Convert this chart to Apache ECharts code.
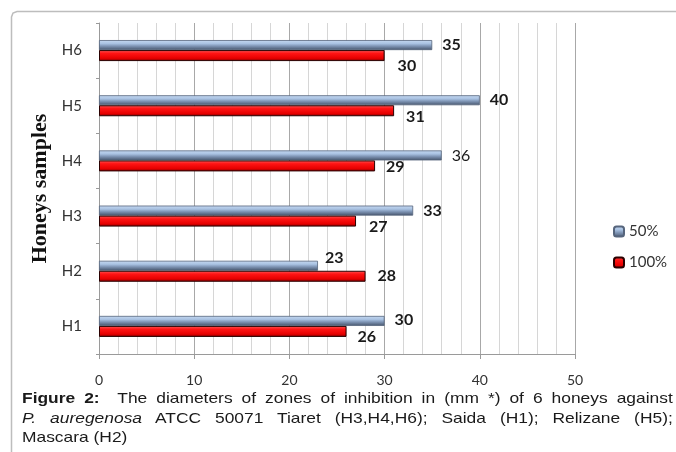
<!DOCTYPE html>
<html>
<head>
<meta charset="utf-8">
<script src="https://cdn.jsdelivr.net/npm/echarts@6/dist/echarts.min.js"></script>
<style>
  html, body { margin: 0; padding: 0; background: #fff; }
  #wrap { position: relative; width: 676px; height: 452px; overflow: hidden; }
  #chart { position: absolute; left: 0; top: 0; width: 676px; height: 452px; }
  #caption {
    position: absolute; left: 22px; top: 388px; width: 561px;
    transform: scaleX(1.16); transform-origin: 0 0;
    font-family: "Liberation Sans", Arial, sans-serif; font-size: 15px;
    line-height: 19.5px; color: #1a1a1a;
  }
  #caption .j { text-align: justify; text-align-last: justify; white-space: nowrap; }
  #caption .l { text-align: left; }
</style>
</head>
<body>
<div id="wrap">
  <div id="chart"></div>
  <div id="caption">
    <div class="j"><b>Figure 2:</b>&nbsp; The diameters of zones of inhibition in (mm *) of 6 honeys against</div>
    <div class="j"><i>P. auregenosa</i> ATCC 50071 Tiaret (H3,H4,H6); Saida (H1); Relizane (H5);</div>
    <div class="l">Mascara (H2)</div>
  </div>
</div>
<script>
// Honey samples and inhibition zone diameters (mm) at two concentrations
const samples = ['H1', 'H2', 'H3', 'H4', 'H5', 'H6'];
const zone50 = [30, 23, 33, 36, 40, 35];
const zone100 = [26, 28, 27, 29, 31, 30];
const seriesNames = ['50%', '100%'];
const xTicks = [0, 10, 20, 30, 40, 50];

const chart = echarts.init(document.getElementById('chart'));

function vGradient(stops) {
  return {
    type: 'linear', x: 0, y: 0, x2: 0, y2: 1,
    colorStops: stops.map(s => ({ offset: s[0], color: s[1] }))
  };
}
const blueFill = vGradient([[0, '#c6d9f1'], [0.35, '#a9c2e2'], [0.6, '#7f95b5'], [1, '#45536a']]);
const redFill = vGradient([[0, '#ff5a5a'], [0.3, '#ff1414'], [0.75, '#e60000'], [1, '#7a0000']]);

const valueLabel = {
  show: true,
  position: 'right',
  fontFamily: 'Lato, "Open Sans", sans-serif',
  fontWeight: 'bold',
  fontSize: 16,
  color: '#1a1a1a'
};

// Hand-placed value labels: per-bar nudges [dx, dy] (H1 .. H6)
const nudge50 = [[0, -1], [-3, -8], [0, 0], [0, 0], [0, 0], [0, 0]];
const nudge100 = [[0, 5], [1, 0], [2, 6], [0, 1], [1, 6], [2, 10]];
const plainWeight50 = [false, false, false, true, false, false];

function withLabels(values, nudges, plain) {
  return values.map((v, i) => ({
    value: v,
    label: { offset: nudges[i], fontWeight: plain && plain[i] ? 'normal' : 'bold' }
  }));
}

chart.setOption({
  animation: false,
  backgroundColor: '#fff',
  graphic: [{
    type: 'polyline',
    shape: { points: [[11.5, 470], [11.5, 17], [13, 13], [17, 11.5], [690, 11.5]] },
    style: { fill: null, stroke: '#bdbdbd', lineWidth: 1.5 },
    silent: true
  }],
  grid: { left: 99, right: 101, top: 23, bottom: 98 },
  legend: {
    orient: 'vertical',
    left: 608,
    top: 219,
    itemWidth: 10,
    itemHeight: 10,
    itemGap: 16,
    data: seriesNames,
    textStyle: { fontFamily: 'Lato, "Open Sans", sans-serif', fontSize: 15, color: '#333' }
  },
  xAxis: {
    type: 'value',
    min: xTicks[0],
    max: xTicks[xTicks.length - 1],
    interval: 10,
    axisLine: { show: true, lineStyle: { color: '#9a9a9a' } },
    axisTick: { show: true, length: 5, lineStyle: { color: '#9a9a9a' } },
    axisLabel: { margin: 19, fontFamily: 'Lato, "Open Sans", sans-serif', fontSize: 14, color: '#333' },
    splitLine: { show: true, lineStyle: { color: '#a8a8a8' } },
    minorTick: { show: true, splitNumber: 5, length: 0 },
    minorSplitLine: { show: true, lineStyle: { color: '#d6d6d6' } }
  },
  yAxis: {
    type: 'category',
    data: samples,
    name: 'Honeys samples',
    nameLocation: 'middle',
    nameGap: 43,
    nameRotate: 90,
    nameTextStyle: { fontFamily: '"Liberation Serif", serif', fontWeight: 'bold', fontSize: 22, color: '#111' },
    axisLine: { show: true, lineStyle: { color: '#9a9a9a' } },
    axisTick: { show: true, length: 3, lineStyle: { color: '#9a9a9a' } },
    axisLabel: { margin: 17, fontFamily: 'Lato, "Open Sans", sans-serif', fontSize: 15, color: '#333' },
    splitLine: { show: false }
  },
  series: [
    {
      name: seriesNames[0],
      type: 'bar',
      data: withLabels(zone50, nudge50, plainWeight50),
      barWidth: 10,
      barGap: '0%',
      barCategoryGap: '62%',
      itemStyle: { color: blueFill, borderColor: '#56657c', borderWidth: 0.8 },
      label: Object.assign({}, valueLabel, { distance: 10 })
    },
    {
      name: seriesNames[1],
      type: 'bar',
      data: withLabels(zone100, nudge100),
      barWidth: 11,
      barGap: '0%',
      barCategoryGap: '62%',
      itemStyle: { color: redFill, borderColor: '#2a0000', borderWidth: 1 },
      label: Object.assign({}, valueLabel, { distance: 11 })
    }
  ]
});
</script>
</body>
</html>
